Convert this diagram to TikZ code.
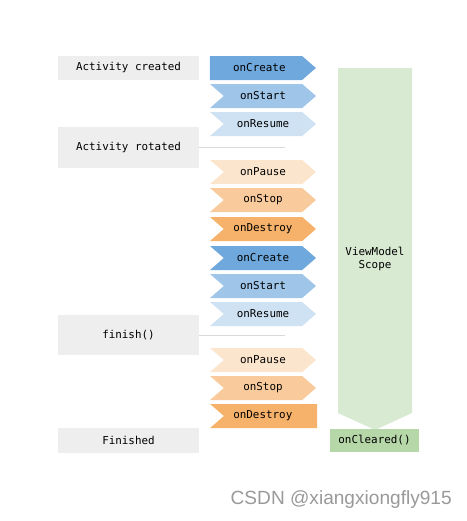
\documentclass[tikz,border=0pt]{standalone}
\usepackage{fontspec}
\setmonofont{DejaVu Sans Mono}
\setsansfont{Liberation Sans}
\usepackage{xcolor}
\usepackage{tikz}
\usetikzlibrary{shapes.symbols,positioning}

\definecolor{stateGray}{HTML}{EEEEEE}
\definecolor{blueA}{HTML}{6FA8DC}
\definecolor{blueB}{HTML}{9FC5E8}
\definecolor{blueC}{HTML}{CFE2F3}
\definecolor{orangeA}{HTML}{FCE5CD}
\definecolor{orangeB}{HTML}{F9CB9C}
\definecolor{orangeC}{HTML}{F6B26B}
\definecolor{scopeGreen}{HTML}{D9EAD3}
\definecolor{clearGreen}{HTML}{B6D7A8}

\begin{document}
\begin{tikzpicture}[
  x=0.03cm, y=-0.03cm,
  state/.style={rectangle, fill=stateGray, minimum width=4.23cm, inner sep=0pt, font=\ttfamily\fontsize{9.3}{11}\selectfont},
  cb/.style={signal, signal to=east, signal from=west, signal pointer angle=82, minimum width=3.18cm, minimum height=0.72cm, inner sep=0pt, font=\ttfamily\fontsize{9.3}{11}\selectfont},
  link/.style={draw=black!15, line width=0.6pt}
]
\useasboundingbox (0,0) rectangle (467,521);

% Activity states
\node[state, minimum height=0.72cm] (created) at (128.5, 67.5) {Activity created};
\node[state, minimum height=1.23cm] (rotated) at (128.5, 147.5) {Activity rotated};
\node[state, minimum height=1.2cm] (finish) at (128.5, 335) {finish()};
\node[state, minimum height=0.75cm] (finished) at (128.5, 440.5) {Finished};

% First lifecycle
\node[cb, fill=blueA, signal from=nowhere] (create1) at (256, 68) {\hspace*{0.2cm}onCreate};
\node[cb, fill=blueB] (start1) at (263, 96) {onStart};
\node[cb, fill=blueC] (resume1) at (263, 124) {onResume};
\node[cb, fill=orangeA] (pause1) at (263, 172) {onPause};
\node[cb, fill=orangeB] (stop1) at (263, 200) {onStop};
\node[cb, fill=orangeC] (destroy1) at (263, 229) {onDestroy};

% Second lifecycle
\node[cb, fill=blueA] (create2) at (263, 258) {onCreate};
\node[cb, fill=blueB] (start2) at (263, 286) {onStart};
\node[cb, fill=blueC] (resume2) at (263, 314) {onResume};
\node[cb, fill=orangeA] (pause2) at (263, 360) {onPause};
\node[cb, fill=orangeB] (stop2) at (263, 388) {onStop};
\node[cb, fill=orangeC, signal to=nowhere, minimum width=3.21cm] (destroy2) at (270.5, 416) {onDestroy\hspace*{0.46cm}};

% ViewModel scope
\fill[scopeGreen] (338,68) -- (412,68) -- (412,413) -- (375,430) -- (338,413) -- cycle;
\node[align=center, inner sep=0pt, font=\ttfamily\fontsize{9.3}{11}\selectfont] (scope) at (375, 259) {ViewModel\\Scope};
\node[rectangle, fill=clearGreen, minimum width=2.67cm, minimum height=0.69cm, inner sep=0pt, font=\ttfamily\fontsize{9.3}{11}\selectfont] (cleared) at (374.5, 440.5) {onCleared()};

% Connections
\coordinate (rotEnd) at (285, 147.5);
\coordinate (finEnd) at (285, 335);
\draw[link] (rotated) -- (rotEnd);
\draw[link] (finish) -- (finEnd);

\node[text=black!40, font=\sffamily\fontsize{16.3}{18}\selectfont, anchor=east, inner sep=0pt] (mark) at (452, 500) {CSDN @xiangxiongfly915};

\end{tikzpicture}
\end{document}
